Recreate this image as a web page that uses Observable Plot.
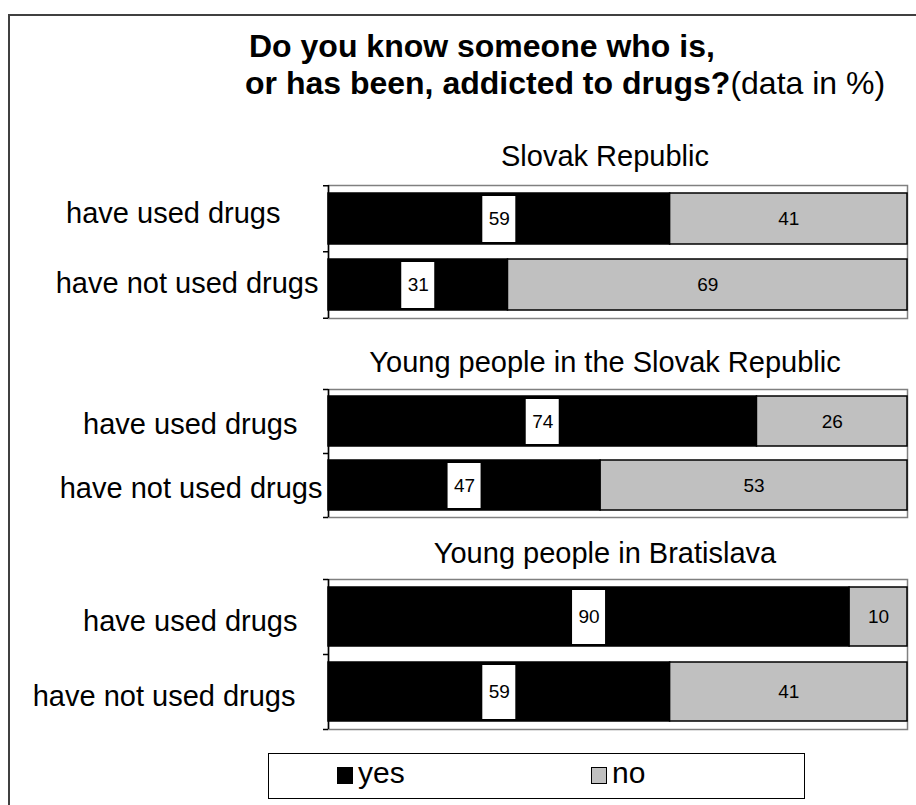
<!DOCTYPE html>
<html><head><meta charset="utf-8">
<script src="https://cdn.jsdelivr.net/npm/d3@7"></script>
<script src="https://cdn.jsdelivr.net/npm/@observablehq/plot@0.6"></script>
<style>
body{margin:0;background:#fff;font-family:"Liberation Sans",Arial,sans-serif;}
#root{position:relative;width:916px;height:805px;overflow:hidden;background:#fff;}
#frame{position:absolute;left:8px;top:14px;width:1000px;height:1000px;border-left:2px solid #404040;border-top:2px solid #404040;}
.t{position:absolute;white-space:nowrap;color:#000;line-height:1;}
.panel{position:absolute;left:0;}
#legend{position:absolute;left:268px;top:753px;width:537px;height:46px;border:1px solid #000;box-sizing:border-box;}
.sw{position:absolute;top:13px;width:16px;height:17px;box-sizing:border-box;border:1px solid #000;}
.lt{position:absolute;top:4px;font-size:30px;line-height:1;white-space:nowrap;}
</style></head><body><div id="root">
<div id="frame"></div>
<div id="title1" class="t" style="left:249px;top:30px;font-size:32px;font-weight:bold;"></div>
<div id="title2" class="t" style="left:245px;top:67px;font-size:32px;"></div>
<div id="panels"></div>
<div id="legend"></div>
</div>
<script>
// ---- data ----
const chartTitle1 = "Do you know someone who is,";
const chartTitle2 = "or has been, addicted to drugs?";
const chartTitleNote = "(data in %)";
const panelTitles = ["Slovak Republic", "Young people in the Slovak Republic", "Young people in Bratislava"];
const groups = ["have used drugs", "have not used drugs"];
const seriesNames = ["yes", "no"];
const seriesColors = ["#000000", "#c0c0c0"];
const yesSlovak = [59, 31];
const noSlovak = [41, 69];
const yesYoungSK = [74, 47];
const noYoungSK = [26, 53];
const yesYoungBA = [90, 59];
const noYoungBA = [10, 41];

document.getElementById("title1").textContent = chartTitle1;
const t2 = document.getElementById("title2");
const b = document.createElement("b"); b.textContent = chartTitle2; t2.appendChild(b);
t2.appendChild(document.createTextNode(chartTitleNote));

const panelData = [[yesSlovak, noSlovak], [yesYoungSK, noYoungSK], [yesYoungBA, noYoungBA]];
// layout per panel (pixels)
const layout = [
  {top: 185, h: 133, titleTop: 142, labelDx: [-48, -10], labelDy: [-5, -1]},
  {top: 389, h: 128, titleTop: 348, labelDx: [-31, -6], labelDy: [3, 3]},
  {top: 579, h: 150, titleTop: 539, labelDx: [-31, -33], labelDy: [5, 5]}
];
const font = '"Liberation Sans", Arial, sans-serif';
const W = 916, ML = 328, MR = W - 907, MT = 6, MB = 6;
const pxToX = 100 / (W - ML - MR);

const panelsDiv = document.getElementById("panels");
panelData.forEach(([yes, no], p) => {
  const L = layout[p];
  const rows = [];
  groups.forEach((g, j) => {
    rows.push({group: g, series: "yes", value: yes[j]});
    rows.push({group: g, series: "no", value: no[j]});
  });
  const yesRows = rows.filter(d => d.series === "yes");
  const step = L.h / 2;
  const boxHalf = 16.5 * pxToX;
  const tickMarks = {x1: -5 * pxToX, x2: 0, stroke: "#000", strokeWidth: 1.5};
  const chart = Plot.plot({
    width: W,
    height: L.h + MT + MB,
    marginLeft: ML, marginRight: MR, marginTop: MT, marginBottom: MB,
    style: {fontFamily: font, background: "transparent", overflow: "visible"},
    x: {domain: [0, 100], axis: null},
    y: {domain: groups, paddingInner: 0.22, paddingOuter: 0.11, axis: null},
    color: {domain: seriesNames, range: seriesColors},
    marks: [
      Plot.frame({stroke: "#808080", strokeWidth: 1.5}),
      Plot.barX(rows, Plot.stackX({x: "value", y: "group", fill: "series", order: seriesNames, stroke: "#000", strokeWidth: 1.5})),
      Plot.barX(yesRows, {x1: d => d.value / 2 - boxHalf, x2: d => d.value / 2 + boxHalf, y: "group", fill: "#fff", insetTop: 3, insetBottom: 2}),
      Plot.text(rows, Plot.stackX({x: "value", y: "group", text: d => String(d.value), order: seriesNames, z: "series", fill: "#000", fontSize: 19})),
      Plot.ruleX([0], {stroke: "#000", strokeWidth: 1.5}),
      Plot.ruleY(groups, {y: d => d, dy: -step / 2, ...tickMarks}),
      Plot.ruleY([groups[1]], {y: d => d, dy: step / 2, ...tickMarks}),
      ...groups.map((g, j) => Plot.axisY({ticks: [g], tickSize: 0, tickPadding: 0, fontSize: 29, textAnchor: "end", dx: L.labelDx[j], dy: L.labelDy[j], label: null, fill: "#000"}))
    ]
  });
  chart.classList.add("panel");
  chart.style.top = (L.top - MT) + "px";
  panelsDiv.appendChild(chart);
  const t = document.createElement("div");
  t.className = "t";
  t.textContent = panelTitles[p];
  t.style.cssText = `left:${605 - 300}px;width:600px;text-align:center;top:${L.titleTop}px;font-size:29px;`;
  panelsDiv.appendChild(t);
});

// legend
const lg = document.getElementById("legend");
const swLeft = [68, 322];
seriesNames.forEach((s, i) => {
  const sw = document.createElement("div");
  sw.className = "sw";
  sw.style.left = swLeft[i] + "px";
  sw.style.background = seriesColors[i];
  lg.appendChild(sw);
  const tx = document.createElement("span");
  tx.className = "lt";
  tx.style.left = (swLeft[i] + 21) + "px";
  tx.textContent = s;
  lg.appendChild(tx);
});
</script>
</body></html>
